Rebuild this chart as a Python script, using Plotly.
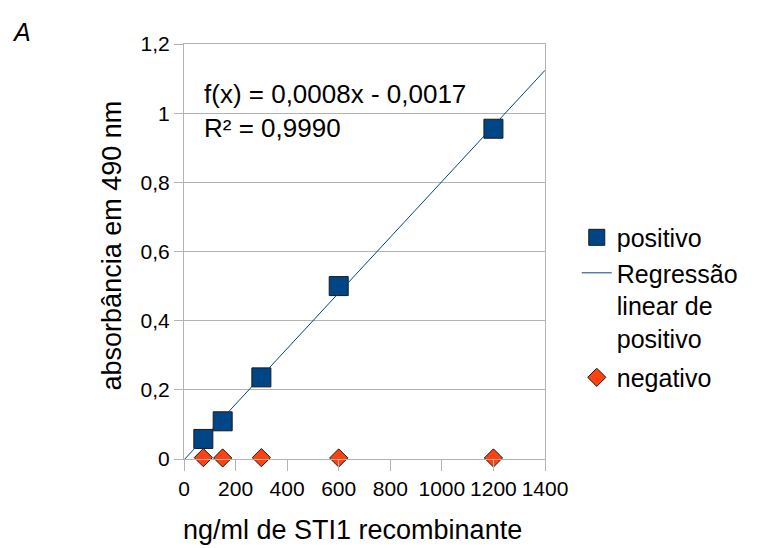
import numpy as np
import plotly.graph_objects as go

# data
conc = [75, 150, 300, 600, 1200]
positivo = [0.058, 0.109, 0.236, 0.500, 0.955]
negativo = [0.004, 0.003, 0.004, 0.003, 0.003]
x_ticks = [0, 200, 400, 600, 800, 1000, 1200, 1400]
y_ticks = [0, 0.2, 0.4, 0.6, 0.8, 1.0, 1.2]
y_tick_labels = ["0", "0,2", "0,4", "0,6", "0,8", "1", "1,2"]
eq_text = "f(x) = 0,0008x - 0,0017<br>R² = 0,9990"
x_title = "ng/ml de STI1 recombinante"
y_title = "absorbância em 490 nm"

slope, intercept = np.polyfit(conc, positivo, 1)
x_fit = [0, 1400]
y_fit = [slope * v + intercept for v in x_fit]

BLUE = "#004586"
ORANGE = "#ff420e"
GRID = "#b3b3b3"
FONT = "Liberation Sans, Arial, sans-serif"

fig = go.Figure()
fig.add_trace(go.Scatter(
    x=conc, y=positivo, mode="markers", name="positivo", legendgroup="pos",
    marker=dict(symbol="square", size=19, color=BLUE, line=dict(color="#1a1a1a", width=1)),
    cliponaxis=False,
))
fig.add_trace(go.Scatter(
    x=x_fit, y=y_fit, mode="lines", name="Regressão<br>linear de<br>positivo", legendgroup="pos",
    line=dict(color=BLUE, width=1),
))
fig.add_trace(go.Scatter(
    x=conc, y=negativo, mode="markers", name="negativo", legendgroup="neg",
    marker=dict(symbol="diamond", size=14, color=ORANGE, line=dict(color="#1a1a1a", width=1)),
    cliponaxis=False,
))

fig.add_annotation(
    text=eq_text, xref="paper", yref="paper", x=0.05, y=0.92,
    xanchor="left", yanchor="top", align="left", showarrow=False,
    font=dict(family=FONT, size=26, color="#000000"),
)
fig.add_annotation(
    text="<i>A</i>", xref="paper", yref="paper", x=-0.45, y=1.03,
    xanchor="center", yanchor="middle", showarrow=False,
    font=dict(family=FONT, size=25, color="#000000"),
)
# axis titles
fig.add_annotation(
    text=x_title, xref="paper", yref="paper", x=0.468, y=-0.171,
    xanchor="center", yanchor="middle", showarrow=False,
    font=dict(family=FONT, size=27, color="#000000"),
)
fig.add_annotation(
    text=y_title, xref="paper", yref="paper", x=-0.199, y=0.515,
    xanchor="center", yanchor="middle", showarrow=False, textangle=-90,
    font=dict(family=FONT, size=27, color="#000000"),
)

fig.update_layout(
    width=760, height=548,
    margin=dict(l=184, r=215, t=44, b=89),
    paper_bgcolor="white", plot_bgcolor="white",
    font=dict(family=FONT, color="#000000"),
    legend=dict(
        x=1.088, y=0.589, xanchor="left", yanchor="top",
        font=dict(family=FONT, size=25, color="#000000"),
        tracegroupgap=4, valign="top",
        bgcolor="rgba(0,0,0,0)",
    ),
    showlegend=True,
)
fig.update_xaxes(
    range=[0, 1400], tickvals=x_ticks, ticktext=[str(v) for v in x_ticks],
    showgrid=False, zeroline=False, automargin=False,
    showline=True, linecolor=GRID, linewidth=1, mirror=True,
    ticks="outside", ticklen=11, tickcolor=GRID,
    tickfont=dict(family=FONT, size=21, color="#000000"),
)
fig.update_yaxes(
    range=[0, 1.2], tickvals=y_ticks, ticktext=y_tick_labels,
    showgrid=True, gridcolor=GRID, gridwidth=1, zeroline=False, automargin=False,
    showline=True, linecolor=GRID, linewidth=1, mirror=True,
    ticks="outside", ticklen=9, tickcolor=GRID,
    tickfont=dict(family=FONT, size=21, color="#000000"),
)

fig.write_html("out.html")
